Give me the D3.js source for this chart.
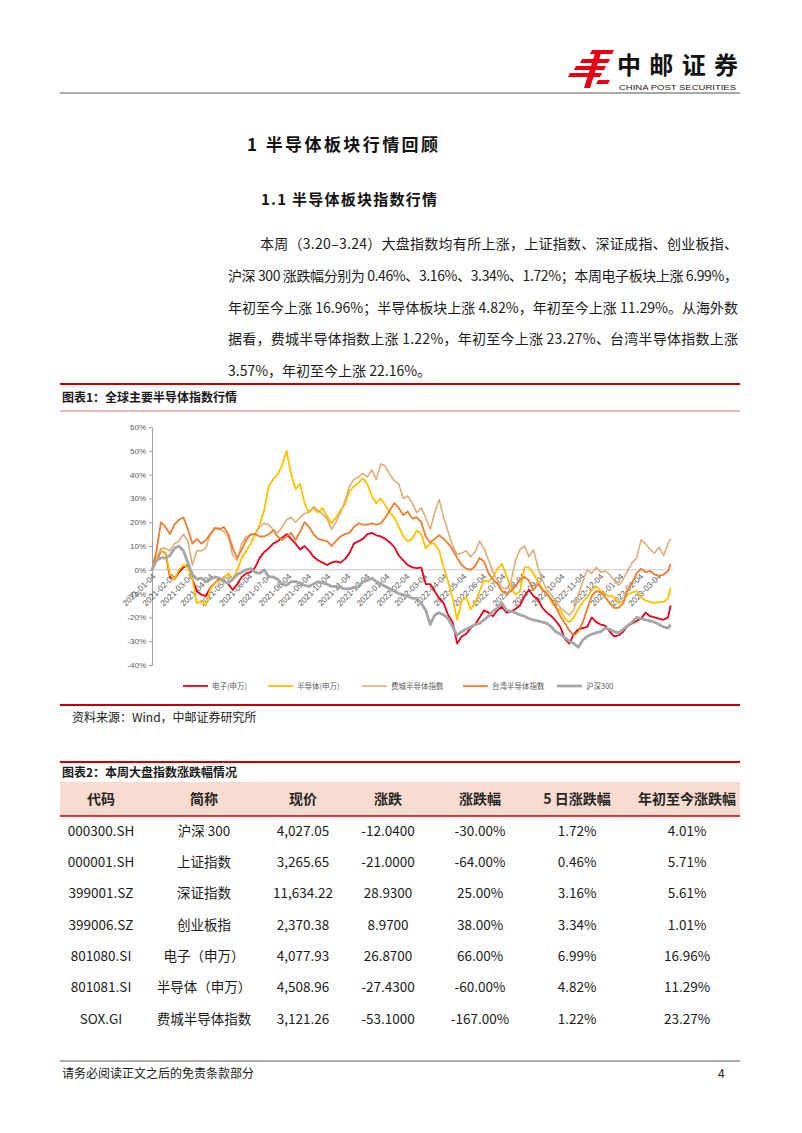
<!DOCTYPE html>
<html>
<head>
<meta charset="utf-8">
<script src="https://cdn.jsdelivr.net/npm/d3@7"></script>
<style>
  body { margin: 0; background: #fff; }
  svg text { font-family: "Noto Sans CJK SC", "Noto Sans", sans-serif; }
</style>
</head>
<body>
<svg id="page" width="802" height="1133"></svg>
<script>
// ---- chart data (cumulative change since 2021-01-04, %, weekly read-off) ----
var seriesNames = ["电子(申万)", "半导体(申万)", "费城半导体指数", "台湾半导体指数", "沪深300"];
var seriesColors = ["#e2001a", "#ffc000", "#dfae78", "#ed7d31", "#a6a6a6"];

var dianzi = [0, 4, 8, 7, -3, -4, -1, 1, 2, -4,
  -9, -10.5, -11, -7.5, -5.5, -4, -4.5, -6, -8.5, -6,
  -3, -1.5, -1, 1, 5, 7.5, 9, 11, 12, 13.5,
  15, 13, 11, 8.5, 10, 8, 5.5, 4, 3, 2,
  3, 3.5, 3, 4.5, 7, 11, 12, 13, 15, 15.5,
  14.5, 14, 13, 11.5, 9.5, 6, 4, 2, 1, 0.7,
  1, -6, -6, -9, -12, -14, -19, -22, -31, -28,
  -27, -24.5, -23, -20, -17, -18, -19.5, -17, -15.5, -18,
  -17.5, -16.5, -15, -11, -8.5, -11, -12.5, -16, -18, -19.5,
  -21.5, -24, -29, -31, -27, -25, -24.5, -24, -20, -22,
  -23, -23.5, -26, -28, -27.5, -26, -23.5, -22.5, -21.5, -20.5,
  -18, -19.5, -20, -20.5, -21, -20, -15];

var bandaoti = [0, 5.5, 8, 7, -2, -4, 0, 2, 1, -4,
  -14, -13, -15, -8, -5.5, -4.5, -3, -1.5, -4, 0,
  5, 8, 11, 15, 19, 25, 35, 38, 40, 44,
  50, 40, 34, 36, 28, 24, 26, 24, 26, 22.5,
  19.5, 22, 25, 27.5, 33, 35, 36.5, 38.5, 36, 31,
  28, 30, 27, 24, 22, 18, 14, 12, 13, 16.5,
  15, 9, 11, 11, 8, 1, -5, -12, -21, -13,
  -11.5, -16.5, -14, -9, -4.5, -5, -3, 0.5, 2.5, -2.5,
  -7.5, -10.5, -9, 1, 1, -1.5, -5, -8, -10, -13.5,
  -16, -17, -20.5, -22, -20, -16.5, -13.5, -11.5, -8.5, -7,
  -9, -10.5, -11, -11.5, -14, -13, -10.5, -9.5, -9, -11.5,
  -13, -13.5, -14, -13.5, -13.5, -12, -7.5];

var feicheng = [0, 4, 9, 9, 8, 11, 12, 15, 12, 2,
  8, 8, 9, 15, 17.5, 17.5, 16, 14, 6, 4,
  11, 14, 14.5, 15, 18, 19.5, 19, 17, 15.5, 18,
  21, 22, 20, 22, 23.5, 24.5, 26.5, 25, 23.5, 21.5,
  17, 20, 24, 29, 35, 38, 39, 40.5, 39, 42,
  38, 44.5, 43.5, 40, 37.5, 36, 30, 31, 28, 24,
  26, 22, 17, 24, 29.5, 22, 16, 10, 6.5, 7,
  8, 5.5, 7.5, 12, 9, 4, -1, -4.5, -7.5, -8,
  -5, 4, 8.5, 10, 5.5, 8.5, 1, -4.5, -8.5, -10.5,
  -13, -16, -17.5, -19, -17, -10.5, -5, 0, -1.5, 1,
  -1, -0.5, -2, -4.5, -6.5, -4, -0.5, 3, 5, 12.5,
  11, 8.5, 7, 9.5, 6, 11, 13];

var taiwan = [0, 8, 20, 18, 15, 19, 21, 22, 17, 11,
  13, 11, 12.5, 15, 17.5, 17, 18, 15, 9, 5,
  8.5, 12.5, 15, 15, 14, 14, 15, 16.5, 14, 12.5,
  14, 15.5, 12.5, 16, 20, 18, 15, 13, 12.5, 12,
  10, 12, 14, 15, 15.5, 18, 19.5, 19, 19, 19.5,
  19, 19.5, 22, 25, 28, 26, 23, 24.5, 21.5, 22,
  20, 14, 11.5, 13, 14.5, 13, 11, 8.5, 5, 2,
  0.5, 0, 1.5, 5, 3.5, -1.5, -4, -6, -9, -10,
  -9, -7, -4, -3, -4.5, -8.5, -6, -8.5, -10, -12.5,
  -15.5, -19.5, -22.5, -25.5, -27.5, -26, -22, -16.5, -11, -9,
  -9.5, -11.5, -14, -16, -16, -14, -8.5, -5.5, -1.5, 0.5,
  -1, -0.5, -2, -2.5, -2, -0.5, 2.5];

var hs300 = [0, 4, 5, 5, 6, 9, 10, 8, 3, -2,
  -4, -3.5, -5, -4, -3, -3.5, -5, -5.5, -4, -2,
  -1, 0, 0.5, -1, -1.5, 0, -3, -3, -4, -6,
  -6.5, -5, -5, -5.5, -6.5, -7, -6, -5, -5.5, -6,
  -7, -7, -7.5, -8, -8, -7.5, -7, -5, -4.5, -3.5,
  -5, -6, -7, -8, -9, -10, -10.5, -11, -12, -12,
  -14, -17, -23, -19, -18, -19, -20.5, -24, -27.5, -26,
  -25, -24, -23, -22.5, -21, -19.5, -17.5, -16, -14, -17,
  -17.5, -18, -19, -19.5, -20.5, -21, -21.5, -22, -22.5, -24,
  -26, -27, -28.5, -30, -31, -32.5, -29.5, -28, -27, -26.5,
  -26, -24.5, -25, -26, -26.5, -25, -23.5, -22, -20, -20.5,
  -21, -21.5, -22, -23, -24, -24.5, -23];

// weekly dates (Mondays) plus the last trading day
var dates = d3.timeMonday.range(new Date(2021, 0, 4), new Date(2023, 2, 21))
  .concat([new Date(2023, 2, 24)]);
var monthTicks = d3.timeMonth.range(new Date(2021, 0, 1), new Date(2023, 3, 1))
  .map(function (m) { return d3.timeDay.offset(m, 3); });
var yTicks = [-40, -30, -20, -10, 0, 10, 20, 30, 40, 50, 60];

// ---- table data ----
var tableHead = ["代码", "简称", "现价", "涨跌", "涨跌幅", "5 日涨跌幅", "年初至今涨跌幅"];
var codes = ["000300.SH", "000001.SH", "399001.SZ", "399006.SZ", "801080.SI", "801081.SI", "SOX.GI"];
var names = ["沪深 300", "上证指数", "深证指数", "创业板指", "电子（申万）", "半导体（申万）", "费城半导体指数"];
var prices = [4027.05, 3265.65, 11634.22, 2370.38, 4077.93, 4508.96, 3121.26];
var changes = [-12.04, -21, 28.93, 8.97, 26.87, -27.43, -53.1];
var changePct = [-30, -64, 25, 38, 66, -60, -167];
var chg5d = [1.72, 0.46, 3.16, 3.34, 6.99, 4.82, 1.22];
var chgYtd = [4.01, 5.71, 5.61, 1.01, 16.96, 11.29, 23.27];

var paragraph = [
  "本周（3.20–3.24）大盘指数均有所上涨，上证指数、深证成指、创业板指、",
  "沪深 300 涨跌幅分别为 0.46%、3.16%、3.34%、1.72%；本周电子板块上涨 6.99%，",
  "年初至今上涨 16.96%；半导体板块上涨 4.82%，年初至今上涨 11.29%。从海外数",
  "据看，费城半导体指数上涨 1.22%，年初至今上涨 23.27%、台湾半导体指数上涨",
  "3.57%，年初至今上涨 22.16%。"
];

var svg = d3.select("#page");
var red = "#c00000";

// ---- page header ----
var logo = svg.append("g").attr("fill", "#e60012");
// stylised emblem: slanted bars + spine
[[590, 50, 22], [580, 59, 28], [574, 66, 30], [568, 73, 32]].forEach(function (b) {
  logo.append("path")
    .attr("d", "M" + (b[0] + 2) + "," + b[1] + "h" + b[2] + "l-2,4h" + (-b[2]) + "z");
});
logo.append("path").attr("d", "M596,50 L602,50 L590,88 L584,88 Z");
logo.append("path").attr("d", "M598,80 L610,80 L608,84 L596,84 Z");

svg.append("text").attr("x", 617).attr("y", 74)
  .attr("font-size", 24).attr("font-weight", 700).attr("fill", "#111")
  .attr("textLength", 121).attr("lengthAdjust", "spacing")
  .text("中邮证券");
svg.append("text").attr("x", 619).attr("y", 89.5)
  .attr("font-size", 8).attr("fill", "#222")
  .style("font-family", "'Liberation Sans', Arial, sans-serif")
  .attr("textLength", 117).attr("lengthAdjust", "spacingAndGlyphs")
  .text("CHINA POST SECURITIES");
svg.append("line").attr("x1", 60).attr("x2", 740).attr("y1", 93).attr("y2", 93)
  .attr("stroke", "#555").attr("stroke-width", 1.2);

// ---- headings and paragraph ----
svg.append("text").attr("x", 247).attr("y", 151)
  .attr("font-size", 17).attr("font-weight", 700).attr("fill", "#111")
  .attr("textLength", 191).attr("lengthAdjust", "spacing")
  .text("1  半导体板块行情回顾");
svg.append("text").attr("x", 261).attr("y", 205)
  .attr("font-size", 15).attr("font-weight", 700).attr("fill", "#111")
  .attr("textLength", 176).attr("lengthAdjust", "spacing")
  .text("1.1  半导体板块指数行情");

svg.append("g").selectAll("text")
  .data(paragraph)
  .enter()
  .append("text")
  .attr("x", function (d, i) { return i === 0 ? 260 : 228; })
  .attr("y", function (d, i) { return 249 + i * 31.8; })
  .attr("font-size", 14)
  .attr("fill", "#1a1a1a")
  .attr("textLength", function (d, i) { return i === 0 ? 478 : (i < 4 ? 510 : null); })
  .attr("lengthAdjust", "spacing")
  .text(function (d) { return d; });

// ---- figure 1 frame ----
svg.append("line").attr("x1", 60).attr("x2", 740).attr("y1", 384).attr("y2", 384)
  .attr("stroke", red).attr("stroke-width", 2);
svg.append("text").attr("x", 62).attr("y", 402)
  .attr("font-size", 12).attr("font-weight", 700).attr("fill", "#1a1a1a")
  .text("图表1：全球主要半导体指数行情");
svg.append("line").attr("x1", 60).attr("x2", 740).attr("y1", 411).attr("y2", 411)
  .attr("stroke", "#e07070").attr("stroke-width", 1);

// ---- chart ----
var x = d3.scaleTime()
  .domain([new Date(2021, 0, 4), new Date(2023, 2, 24)])
  .range([152, 670.6]);
var y = d3.scaleLinear().domain([-40, 60]).range([665, 427]);

var chart = svg.append("g");

chart.append("line")
  .attr("x1", x.range()[0]).attr("x2", 673)
  .attr("y1", y(0)).attr("y2", y(0))
  .attr("stroke", "#c8c8c8").attr("stroke-width", 1);

var yAxis = chart.append("g")
  .attr("transform", "translate(152,0)")
  .call(d3.axisLeft(y).tickValues(yTicks).tickSize(3).tickPadding(3)
    .tickFormat(function (d) { return d + "%"; }));
yAxis.select(".domain").attr("stroke", "#a0a0a0");
yAxis.selectAll(".tick line").attr("stroke", "#a0a0a0");
yAxis.selectAll(".tick text")
  .attr("fill", "#595959").attr("font-size", 8)
  .style("font-family", "'Liberation Sans', Arial, sans-serif");

var fmtDate = d3.timeFormat("%Y-%m-%d");
chart.append("g").selectAll("text")
  .data(monthTicks)
  .enter()
  .append("text")
  .attr("transform", function (d) { return "translate(" + (x(d) + 2) + "," + (y(0) + 5) + ") rotate(-45)"; })
  .attr("text-anchor", "end")
  .attr("dy", "0.35em")
  .attr("font-size", 8.3)
  .attr("fill", "#595959")
  .style("font-family", "'Liberation Sans', Arial, sans-serif")
  .text(fmtDate);

var allSeries = [dianzi, bandaoti, feicheng, taiwan, hs300];
var widths = [1.8, 1.8, 1.6, 1.8, 2.8];
var line = d3.line()
  .x(function (d, i) { return x(dates[i]); })
  .y(function (d) { return y(d); });

chart.append("g").selectAll("path")
  .data(allSeries)
  .enter()
  .append("path")
  .attr("d", line)
  .attr("fill", "none")
  .attr("stroke", function (d, i) { return seriesColors[i]; })
  .attr("stroke-width", function (d, i) { return widths[i]; })
  .attr("stroke-linejoin", "round");

// legend
var legendX = [183, 268, 362, 463, 557];
var legend = chart.append("g").selectAll("g")
  .data(seriesNames)
  .enter()
  .append("g")
  .attr("transform", function (d, i) { return "translate(" + legendX[i] + ",686)"; });
legend.append("line")
  .attr("x1", 0).attr("x2", 25)
  .attr("stroke", function (d, i) { return seriesColors[i]; })
  .attr("stroke-width", function (d, i) { return widths[i]; });
legend.append("text")
  .attr("x", 29).attr("dy", "0.35em")
  .attr("font-size", 7.5).attr("fill", "#595959")
  .text(function (d) { return d; });

svg.append("line").attr("x1", 60).attr("x2", 740).attr("y1", 705).attr("y2", 705)
  .attr("stroke", red).attr("stroke-width", 2);
svg.append("text").attr("x", 72).attr("y", 722)
  .attr("font-size", 12).attr("fill", "#1a1a1a")
  .text("资料来源：Wind，中邮证券研究所");

// ---- figure 2: table ----
svg.append("line").attr("x1", 60).attr("x2", 740).attr("y1", 762).attr("y2", 762)
  .attr("stroke", red).attr("stroke-width", 2);
svg.append("text").attr("x", 62).attr("y", 777)
  .attr("font-size", 12).attr("font-weight", 700).attr("fill", "#1a1a1a")
  .text("图表2：本周大盘指数涨跌幅情况");

svg.append("rect").attr("x", 60).attr("y", 782).attr("width", 680).attr("height", 34)
  .attr("fill", "#f9dbcf");
svg.append("line").attr("x1", 60).attr("x2", 740).attr("y1", 816).attr("y2", 816)
  .attr("stroke", red).attr("stroke-width", 1.5);

var colX = [101, 204, 303, 388, 480, 577, 687];
svg.append("g").selectAll("text")
  .data(tableHead)
  .enter()
  .append("text")
  .attr("x", function (d, i) { return colX[i]; })
  .attr("y", 799).attr("dy", "0.35em")
  .attr("text-anchor", "middle")
  .attr("font-size", 14).attr("font-weight", 700).attr("fill", "#262626")
  .text(function (d) { return d; });

var loc = d3.formatLocale({ decimal: ".", thousands: ",", grouping: [3], currency: ["", ""], minus: "-" });
var fPrice = loc.format(",.2f"), fChg = loc.format(".4f"), fPct = loc.format(".2f");

var rowY = d3.scaleBand().domain(codes).range([815.5, 1034.6]);
var rows = svg.append("g").selectAll("g")
  .data(codes)
  .enter()
  .append("g")
  .attr("transform", function (d) { return "translate(0," + (rowY(d) + rowY.bandwidth() / 2) + ")"; });

rows.each(function (code, i) {
  var cells = [code, names[i], fPrice(prices[i]), fChg(changes[i]),
    fPct(changePct[i]) + "%", fPct(chg5d[i]) + "%", fPct(chgYtd[i]) + "%"];
  d3.select(this).selectAll("text")
    .data(cells)
    .enter()
    .append("text")
    .attr("x", function (d, j) { return colX[j]; })
    .attr("dy", "0.35em")
    .attr("text-anchor", "middle")
    .attr("font-size", 13.5).attr("fill", "#1a1a1a")
    .text(function (d) { return d; });
});

// ---- footer ----
svg.append("line").attr("x1", 60).attr("x2", 740).attr("y1", 1061).attr("y2", 1061)
  .attr("stroke", "#555").attr("stroke-width", 1.2);
svg.append("text").attr("x", 62).attr("y", 1078)
  .attr("font-size", 12).attr("fill", "#1a1a1a")
  .text("请务必阅读正文之后的免责条款部分");
svg.append("text").attr("x", 718).attr("y", 1078)
  .attr("font-size", 12).attr("fill", "#1a1a1a")
  .text("4");
</script>
</body>
</html>
